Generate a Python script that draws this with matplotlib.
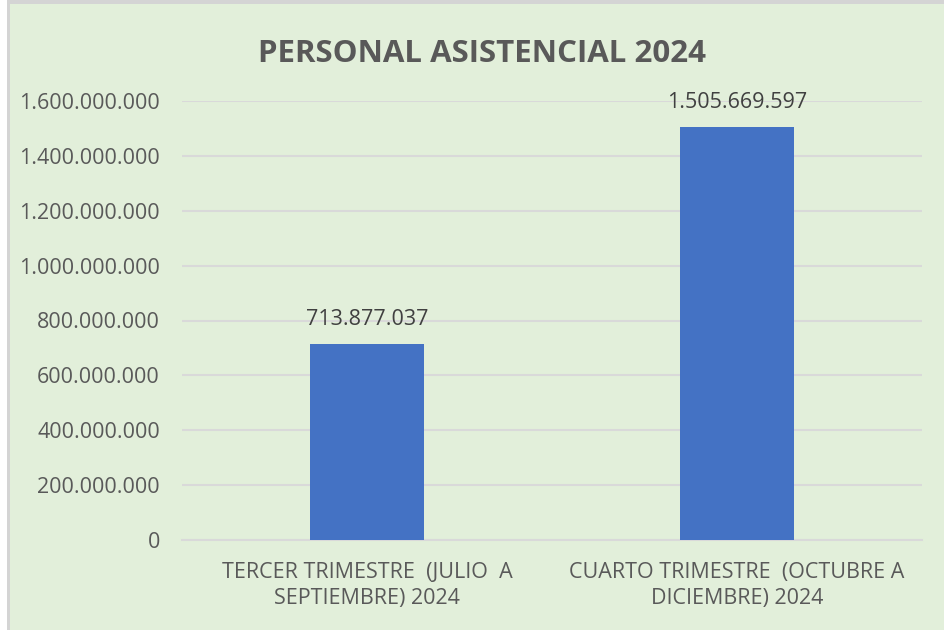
import matplotlib.pyplot as plt
from matplotlib.patches import Rectangle
from matplotlib.ticker import FuncFormatter

# Data
categories = ["TERCER TRIMESTRE  (JULIO  A\nSEPTIEMBRE) 2024",
              "CUARTO TRIMESTRE  (OCTUBRE A\nDICIEMBRE) 2024"]
values = [713877037, 1505669597]

bg = "#E2EFDA"
text_gray = "#595959"
grid_gray = "#D9D9D9"

plt.rcParams['font.family'] = ['Open Sans', 'DejaVu Sans']

fig = plt.figure(figsize=(9.45, 6.3), dpi=100, facecolor="white")

# chart area background with gray border on left/top
fig.patches.append(Rectangle((10 / 945, 0), 1, 1 - 4 / 630, transform=fig.transFigure,
                             facecolor=bg, edgecolor="none", zorder=-5))
fig.patches.append(Rectangle((7 / 945, 0), 3 / 945, 1, transform=fig.transFigure,
                             facecolor="#D4D4D4", edgecolor="none", zorder=-5))
fig.patches.append(Rectangle((7 / 945, 1 - 4 / 630), 1, 4 / 630, transform=fig.transFigure,
                             facecolor="#D4D4D4", edgecolor="none", zorder=-5))

ax = fig.add_axes([182 / 945, 1 - 540 / 630, 740 / 945, 439 / 630])
ax.set_facecolor("none")
ax.set_zorder(2)

x = [0, 1]
bars = ax.bar(x, values, width=0.31, color="#4472C4", zorder=3)

ax.set_xlim(-0.5, 1.5)
ax.set_ylim(0, 1600000000)
ax.set_yticks(range(0, 1600000001, 200000000))


def fmt(v, pos):
    return "{:,.0f}".format(v).replace(",", ".")


ax.yaxis.set_major_formatter(FuncFormatter(fmt))
ax.grid(axis="y", color=grid_gray, linewidth=1.5, zorder=0)
ax.set_axisbelow(True)

for s in ["top", "right", "left"]:
    ax.spines[s].set_visible(False)
ax.spines["bottom"].set_color(grid_gray)
ax.spines["bottom"].set_linewidth(1.5)

ax.tick_params(axis="y", length=0, pad=16, labelsize=15.5, labelcolor=text_gray)
ax.tick_params(axis="x", length=0, pad=16, labelsize=15.5, labelcolor=text_gray)
ax.set_xticks(x)
ax.set_xticklabels(categories, linespacing=1.3)

for xi, v in zip(x, values):
    ax.annotate(fmt(v, None), (xi, v), xytext=(0, 10), textcoords="offset points",
                ha="center", va="bottom", fontsize=15.5, color="#404040")

fig.text(0.51, 0.914, "PERSONAL ASISTENCIAL 2024", ha="center", va="center",
         fontsize=22.5, fontweight="bold", color=text_gray)

fig.savefig("out.png", dpi=100, facecolor=fig.get_facecolor())
